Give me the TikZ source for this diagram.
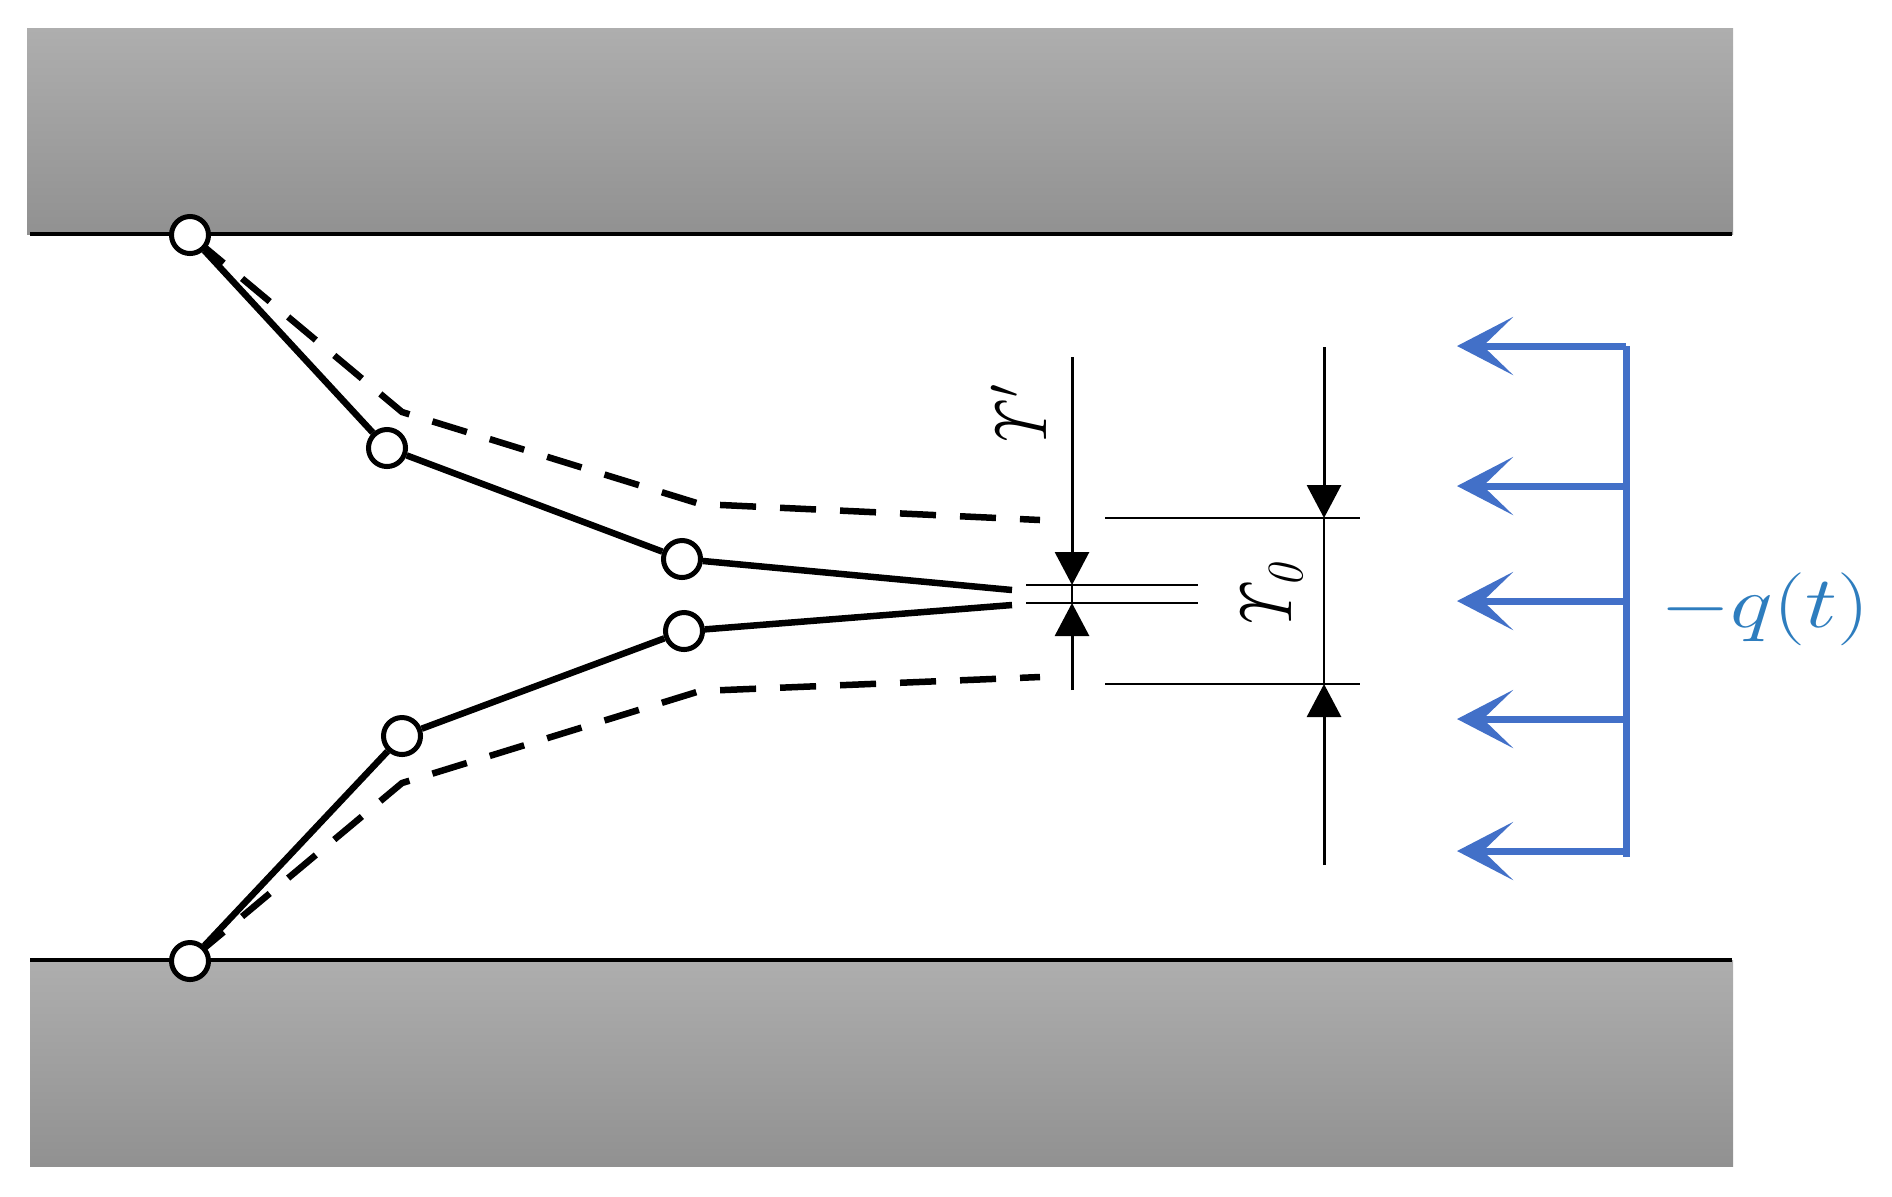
\documentclass[tikz,border=0pt]{standalone}
\usetikzlibrary{arrows.meta}

\definecolor{wallTop}{RGB}{174,174,174}
\definecolor{wallBottom}{RGB}{145,145,145}
\definecolor{loadBlue}{RGB}{66,112,200}
\definecolor{loadText}{RGB}{46,125,190}

\tikzset{
    wall/.style={top color=wallTop, bottom color=wallBottom},
    face/.style={line width=.045cm},
    link/.style={line width=.065cm},
    deflected/.style={line width=.065cm, dash pattern=on .36cm off .24cm},
    joint/.style={circle, draw, fill=white, line width=.05cm, minimum size=.37cm, inner sep=0pt},
    dim/.style={line width=.03cm, -{Triangle[length=.33cm,width=.34cm]}},
    ext/.style={line width=.025cm},
    load/.style={line width=.07cm, color=loadBlue, -{Stealth[length=.56cm,width=.58cm,inset=.3cm]}},
    sym/.style={inner sep=0pt, rotate=90, font=\fontsize{21}{21}\selectfont}
}

\begin{document}
\begin{tikzpicture}[x=.01cm, y=-.01cm]
        \useasboundingbox (0,0) rectangle (1892,1196);

        % walls
        \shade[wall] (27,28) rectangle (1733,234);
        \shade[wall] (30,960) rectangle (1733,1166);
        \coordinate (ftl) at (30,234);
        \coordinate (ftr) at (1732,234);
        \coordinate (fbl) at (30,960);
        \coordinate (fbr) at (1732,960);
        \draw[face] (ftl) -- (ftr);
        \draw[face] (fbl) -- (fbr);

        % deflected shape
        \coordinate (dt0) at (196,240);
        \coordinate (dt1) at (402,412);
        \coordinate (dt2) at (700,504);
        \coordinate (dt3) at (1040,520);
        \coordinate (db0) at (196,955);
        \coordinate (db1) at (402,783);
        \coordinate (db2) at (700,691);
        \coordinate (db3) at (1040,677);
        \draw[deflected] (dt0) -- (dt1) -- (dt2) -- (dt3);
        \draw[deflected] (db0) -- (db1) -- (db2) -- (db3);

        % links and joints
        \node[joint] (t0) at (190,235) {};
        \node[joint] (t1) at (387,448) {};
        \node[joint] (t2) at (682,559) {};
        \node[joint] (b0) at (190,961) {};
        \node[joint] (b1) at (402,736) {};
        \node[joint] (b2) at (684,631) {};
        \coordinate (tt) at (1012,590);
        \coordinate (bt) at (1012,605);
        \draw[link] (t0) -- (t1) -- (t2) -- (tt);
        \draw[link] (b0) -- (b1) -- (b2) -- (bt);

        % gap Y'
        \coordinate (gl1) at (1026,585);
        \coordinate (gr1) at (1198,585);
        \coordinate (gl2) at (1026,603);
        \coordinate (gr2) at (1198,603);
        \coordinate (ga1) at (1072,357);
        \coordinate (ga2) at (1072,585);
        \coordinate (ga3) at (1072,690);
        \coordinate (ga4) at (1072,603);
        \draw[ext] (gl1) -- (gr1);
        \draw[ext] (gl2) -- (gr2);
        \draw[dim] (ga1) -- (ga2);
        \draw[dim] (ga3) -- (ga4);
        \draw[ext] (ga2) -- (ga4);

        % gap Y0
        \coordinate (ol1) at (1105,518);
        \coordinate (or1) at (1360,518);
        \coordinate (ol2) at (1105,684);
        \coordinate (or2) at (1360,684);
        \coordinate (oa1) at (1324,347);
        \coordinate (oa2) at (1324,518);
        \coordinate (oa3) at (1324,865);
        \coordinate (oa4) at (1324,684);
        \draw[ext] (ol1) -- (or1);
        \draw[ext] (ol2) -- (or2);
        \draw[dim] (oa1) -- (oa2);
        \draw[dim] (oa3) -- (oa4);
        \draw[ext] (oa2) -- (oa4);

        \node[sym] (ylabel) at (1019,419) {\scalebox{.9}[1]{$\mathit{\Upsilon}'$}};
        \node[sym] (zlabel) at (1272,597) {\scalebox{.9}[1]{$\mathit{\Upsilon}_{\mathit{0}}$}};

        % load
        \coordinate (lt) at (1626,346);
        \coordinate (lb) at (1626,857);
        \draw[line width=.07cm, color=loadBlue] (lt) -- (lb);
        \foreach \k/\y in {1/346,2/486,3/601,4/719,5/851} {
            \coordinate (ls\k) at (1626,\y);
            \coordinate (le\k) at (1457,\y);
            \draw[load] (ls\k) -- (le\k);
        }
        \node[text=loadText, font=\fontsize{21}{21}\selectfont, inner sep=0pt] (qlabel) at (1765,609) {\scalebox{1.24}[1]{$-q(t)$}};

    \end{tikzpicture}
\end{document}
